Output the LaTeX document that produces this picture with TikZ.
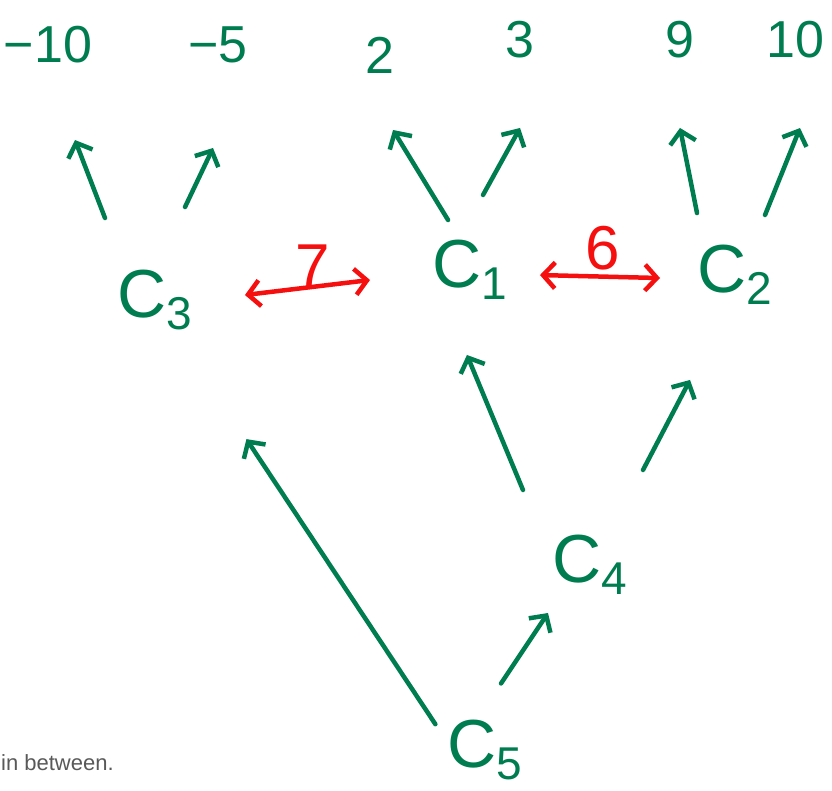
\documentclass[tikz,border=0pt]{standalone}
\usepackage{fontspec}
\setmainfont{Liberation Sans}
\usetikzlibrary{arrows.meta}
\definecolor{ink}{RGB}{0,125,80}
\definecolor{redink}{RGB}{245,15,15}
\newcommand{\clsname}[1]{C\raisebox{-12pt}{\fontsize{46}{46}\selectfont #1}}

\begin{document}
\begin{tikzpicture}[x=1pt, y=-1pt,
  num/.style={text=ink, inner sep=0pt, font=\fontsize{52}{56}\selectfont},
  cls/.style={text=ink, inner sep=0pt, font=\fontsize{68}{72}\selectfont},
  arr/.style={draw=ink, line width=4.5pt, line cap=round, -{Straight Barb[length=12pt,width=26pt]}},
  dist/.style={draw=redink, line width=4.5pt, line cap=round,
    {Straight Barb[length=12pt,width=26pt]}-{Straight Barb[length=12pt,width=26pt]}},
  lab/.style={text=redink, inner sep=1pt, font=\fontsize{62}{66}\selectfont}]
\useasboundingbox (0,0) rectangle (832,790);

% Points
\node[num] (m10) at (48,45) {−10};
\node[num] (m5) at (218,45) {−5};
\node[num] (p2) at (380,55) {2};
\node[num] (p3) at (520,40) {3};
\node[num] (p9) at (680,40) {9};
\node[num] (p10) at (795,40) {10};

% Clusters
\node[cls] (c3) at (155,300) {\clsname{3}};
\node[cls] (c1) at (470,270) {\clsname{1}};
\node[cls] (c2) at (735,275) {\clsname{2}};
\node[cls] (c4) at (590,565) {\clsname{4}};
\node[cls] (c5) at (485,750) {\clsname{5}};

% Merges
\draw[arr, shorten <=87.8pt, shorten >=101.8pt] ([xshift=-18.5pt]c3.center) -- ([xshift=-9.5pt]m10.center);
\draw[arr, shorten <=102.9pt, shorten >=114pt] ([xshift=-14.1pt]c3.center) -- ([xshift=43.9pt]m5.center);
\draw[arr, shorten <=58.6pt, shorten >=87.9pt] ([xshift=8.6pt]c1.center) -- ([xshift=-32.8pt]p2.center);
\draw[arr, shorten <=85.7pt, shorten >=100.5pt] ([xshift=-28.4pt]c1.center) -- ([xshift=48.6pt]p3.center);
\draw[arr, shorten <=63.2pt, shorten >=89.7pt] ([xshift=-25.6pt]c2.center) -- ([xshift=-17.6pt]p9.center);
\draw[arr, shorten <=64.7pt, shorten >=94.9pt] ([xshift=5.9pt]c2.center) -- ([xshift=40.4pt]p10.center);
\draw[arr, shorten <=81.2pt, shorten >=92pt] ([xshift=-35.9pt]c4.center) -- ([xshift=-38.3pt]c1.center);
\draw[arr, shorten <=107.2pt, shorten >=118.4pt] ([xshift=3.4pt]c4.center) -- ([xshift=9.8pt]c2.center);
\draw[arr, shorten <=31pt, shorten >=166.9pt] ([xshift=-32.5pt]c5.center) -- ([xshift=-0.8pt]c3.center);
\draw[arr, shorten <=80pt, shorten >=57.7pt] ([xshift=-28.4pt]c5.center) -- ([xshift=-10pt]c4.center);

% Distances
\draw[dist, shorten <=90.6pt, shorten >=100.7pt] ([yshift=-5.8pt]c3.center) -- ([yshift=2pt]c1.center)
  node[lab, midway, above=-4pt] (d7) {7};
\draw[dist, shorten <=70pt, shorten >=75pt] ([yshift=-3.3pt]c1.center) -- ([yshift=-4.9pt]c2.center)
  node[lab, midway, above=3pt] (d6) {6};

% Caption
\node[anchor=west, text=black!65, inner sep=0pt, font=\fontsize{22}{26}\selectfont] (cap) at (1,763) {in between.};
\end{tikzpicture}
\end{document}
